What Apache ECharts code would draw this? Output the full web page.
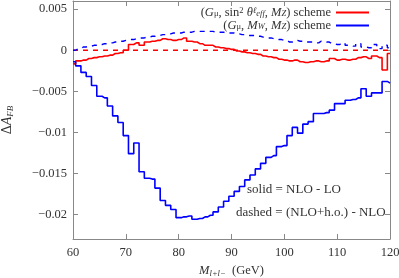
<!DOCTYPE html>
<html>
<head>
<meta charset="utf-8">
<script src="https://cdn.jsdelivr.net/npm/echarts@6/dist/echarts.min.js"></script>
<style>html,body{margin:0;padding:0;background:#fff}#c{width:399px;height:278px}</style>
</head>
<body>
<div id="c"></div>
<script>
const masses = [60,61,62,63,64,65,66,67,68,69,70,71,72,73,74,75,76,77,78,79,80,81,82,83,84,85,86,87,88,89,90,91,92,93,94,95,96,97,98,99,100,101,102,103,104,105,106,107,108,109,110,111,112,113,114,115,116,117,118,119,120];
const redSolid = [-0.00166,-0.0013,-0.0012,-0.0010,-0.0009,-0.0008,-0.0007,-0.0006,-0.0004,-0.0003,0.0000,0.0007,0.0009,0.0006,0.0010,0.0011,0.0012,0.0014,0.0013,0.0012,0.0013,0.0015,0.0011,0.0010,0.0008,0.0006,0.0006,0.0004,0.0003,0.0002,0.0001,-0.0001,-0.0002,-0.0003,-0.0004,-0.0005,-0.0007,-0.0008,-0.0009,-0.0011,-0.0012,-0.0013,-0.0012,-0.0014,-0.0015,-0.0014,-0.0013,-0.0014,-0.0013,-0.0010,-0.0012,-0.0011,-0.0012,-0.0011,-0.0009,-0.0008,-0.0010,-0.0007,-0.0009,-0.0024,-0.0004];
const blueSolid = [-0.0014,-0.0019,-0.0027,-0.0032,-0.0043,-0.0056,-0.0058,-0.0068,-0.0080,-0.0088,-0.0104,-0.0126,-0.0113,-0.0148,-0.0156,-0.0157,-0.0168,-0.0183,-0.0189,-0.0194,-0.0204,-0.0203,-0.0202,-0.0206,-0.0205,-0.0203,-0.0201,-0.0197,-0.0191,-0.0184,-0.0178,-0.0172,-0.0166,-0.0158,-0.0152,-0.01446,-0.01378,-0.01305,-0.01284,-0.01174,-0.01162,-0.0104,-0.0094,-0.0101,-0.0090,-0.0087,-0.0077,-0.0077,-0.0076,-0.0073,-0.0065,-0.0065,-0.0061,-0.0060,-0.0058,-0.0047,-0.0056,-0.0052,-0.0052,-0.0038,-0.0040];
const redDashed = [0.0000,0.0000,0.0000,0.0000,0.0000,0.0000,0.0000,0.0000,0.0000,0.0000,0.0000,0.0000,0.0000,0.0000,0.0000,0.0000,0.0000,0.0000,0.0000,0.0000,0.0000,0.0000,0.0000,0.0000,0.0000,0.0000,0.0000,0.0000,0.0000,0.0000,0.0000,0.0000,0.0000,0.0000,0.0000,0.0000,0.0000,0.0000,0.0000,0.0000,0.0000,0.0000,0.0000,0.0000,0.0000,0.0000,0.0000,0.0000,0.0000,0.0000,0.0000,0.0000,0.0000,0.0000,0.0000,0.0000,0.0000,0.0000,0.0000,0.0000,0.0000];
const blueDashed = [0.0000,0.0002,0.0004,0.0005,0.0006,0.0007,0.0008,0.0009,0.0010,0.0011,0.0012,0.0013,0.0014,0.0015,0.0016,0.0017,0.0018,0.0019,0.0020,0.0021,0.0021,0.0022,0.0022,0.0023,0.0023,0.0023,0.0023,0.0022,0.0022,0.0021,0.0021,0.0020,0.0019,0.0018,0.0018,0.0017,0.0016,0.0015,0.0014,0.0013,0.0012,0.0010,0.0012,0.0011,0.0010,0.0010,0.0009,0.0011,0.0010,0.0008,0.0007,0.0009,0.0006,0.0005,0.0008,0.0004,0.0003,0.0007,0.0002,0.0006,0.0003];
const xTicks = [60,70,80,90,100,110,120];
const yTicks = [-0.02,-0.015,-0.01,-0.005,0,0.005];
const yTickLabels = ['\u22120.02','\u22120.015','\u22120.01','\u22120.005','0','0.005'];

const pairs = (ys) => masses.map((m, i) => [m, ys[i]]);
const FONT = 'Liberation Serif';
const TXT = '#333';
const AX = '#888';

function mkRich(fs, sfs, lh) {
  return {
    n: {fontFamily: FONT, fontSize: fs, color: TXT, lineHeight: lh},
    i: {fontFamily: FONT, fontSize: fs, fontStyle: 'italic', color: TXT, lineHeight: lh},
    sub: {fontFamily: FONT, fontSize: sfs, fontStyle: 'italic', color: TXT, verticalAlign: 'bottom', lineHeight: sfs},
    subn: {fontFamily: FONT, fontSize: sfs, color: TXT, verticalAlign: 'bottom', lineHeight: sfs},
    sup: {fontFamily: FONT, fontSize: sfs, color: TXT, verticalAlign: 'top', lineHeight: sfs},
    supi: {fontFamily: FONT, fontSize: sfs, fontStyle: 'italic', color: TXT, verticalAlign: 'top', lineHeight: sfs}
  };
}

const legendText = {
  A: '{n|(}{i|G}{subn|μ}{n|, sin}{sup|2}{n| }{i|θ}{supi|ℓ}{sub|eff}{n|, }{i|M}{sub|Z}{n|) scheme}',
  B: '{n|(}{i|G}{subn|μ}{n|, }{i|M}{sub|W}{n|, }{i|M}{sub|Z}{n|) scheme}'
};

const chart = echarts.init(document.getElementById('c'), null, {renderer: 'canvas'});
const yCommon = {
  type: 'value', min: -0.023, max: 0.006,
  axisLine: {show: true, onZero: false, lineStyle: {color: AX, width: 1}},
  axisTick: {show: true, inside: true, length: 5, customValues: yTicks, lineStyle: {color: AX}},
  splitLine: {show: false}
};
const xCommon = {
  type: 'value', min: 60, max: 120, interval: 10,
  axisLine: {show: true, onZero: false, lineStyle: {color: AX, width: 1}},
  axisTick: {show: true, inside: true, length: 5, lineStyle: {color: AX}},
  splitLine: {show: false}
};
chart.setOption({
  animation: false,
  backgroundColor: '#fff',
  grid: {left: 73, right: 9, top: 1, bottom: 39, containLabel: false, outerBoundsMode: 'none'},
  legend: {
    data: ['A', 'B'], orient: 'vertical', right: 25, top: 1, align: 'right',
    icon: 'rect', itemWidth: 33, itemHeight: 2, itemGap: 0, selectedMode: false,
    formatter: (name) => legendText[name],
    textStyle: {rich: mkRich(12.5, 8.5, 12), fontFamily: FONT, fontSize: 12.5, color: TXT}
  },
  xAxis: [
    Object.assign({}, xCommon, {position: 'bottom',
      axisLabel: {show: true, fontFamily: FONT, fontSize: 12.5, color: TXT, margin: 7, formatter: (v) => String(v)},
      name: '{i|M}{sub|l+l−}{n|  (GeV)}', nameLocation: 'middle', nameGap: 25,
      nameTextStyle: {rich: mkRich(12.5, 8.5, 14)}}),
    Object.assign({}, xCommon, {position: 'top', axisLabel: {show: false}})
  ],
  yAxis: [
    Object.assign({}, yCommon, {position: 'left',
      axisLabel: {show: true, fontFamily: FONT, fontSize: 12.5, color: TXT, margin: 6, customValues: yTicks,
        formatter: (v) => { const k = yTicks.findIndex(t => Math.abs(t - v) < 1e-9); return k >= 0 ? yTickLabels[k] : ''; }},
      name: '{n|Δ}{i|A}{sub|FB}', nameLocation: 'middle', nameGap: 58, nameRotate: 90,
      nameTextStyle: {rich: mkRich(14, 9, 16)}}),
    Object.assign({}, yCommon, {position: 'right', axisLabel: {show: false}})
  ],
  series: [
    {name: 'A', type: 'line', step: 'middle', data: pairs(redSolid), symbol: 'none', showSymbol: false,
      color: '#ff0000', lineStyle: {color: '#ff0000', width: 1.6}, z: 3},
    {name: 'B', type: 'line', step: 'middle', data: pairs(blueSolid), symbol: 'none', showSymbol: false,
      color: '#0000ff', lineStyle: {color: '#0000ff', width: 1.6}, z: 3},
    {name: 'Adash', type: 'line', step: 'middle', data: pairs(redDashed), symbol: 'none', showSymbol: false,
      color: '#ff0000', lineStyle: {color: '#ff0000', width: 1.4, type: [5, 5]}, z: 2},
    {name: 'Bdash', type: 'line', step: 'middle', data: pairs(blueDashed), symbol: 'none', showSymbol: false,
      color: '#0000ff', lineStyle: {color: '#0000ff', width: 1.4, type: [5, 5]}, z: 2}
  ],
  graphic: [
    {type: 'text', left: 247, top: 183, style: {text: 'solid = NLO - LO', font: '13px "Liberation Serif"', fill: TXT}},
    {type: 'text', left: 236, top: 206, style: {text: 'dashed = (NLO+h.o.) - NLO', font: '13px "Liberation Serif"', fill: TXT}}
  ]
});
</script>
</body>
</html>
